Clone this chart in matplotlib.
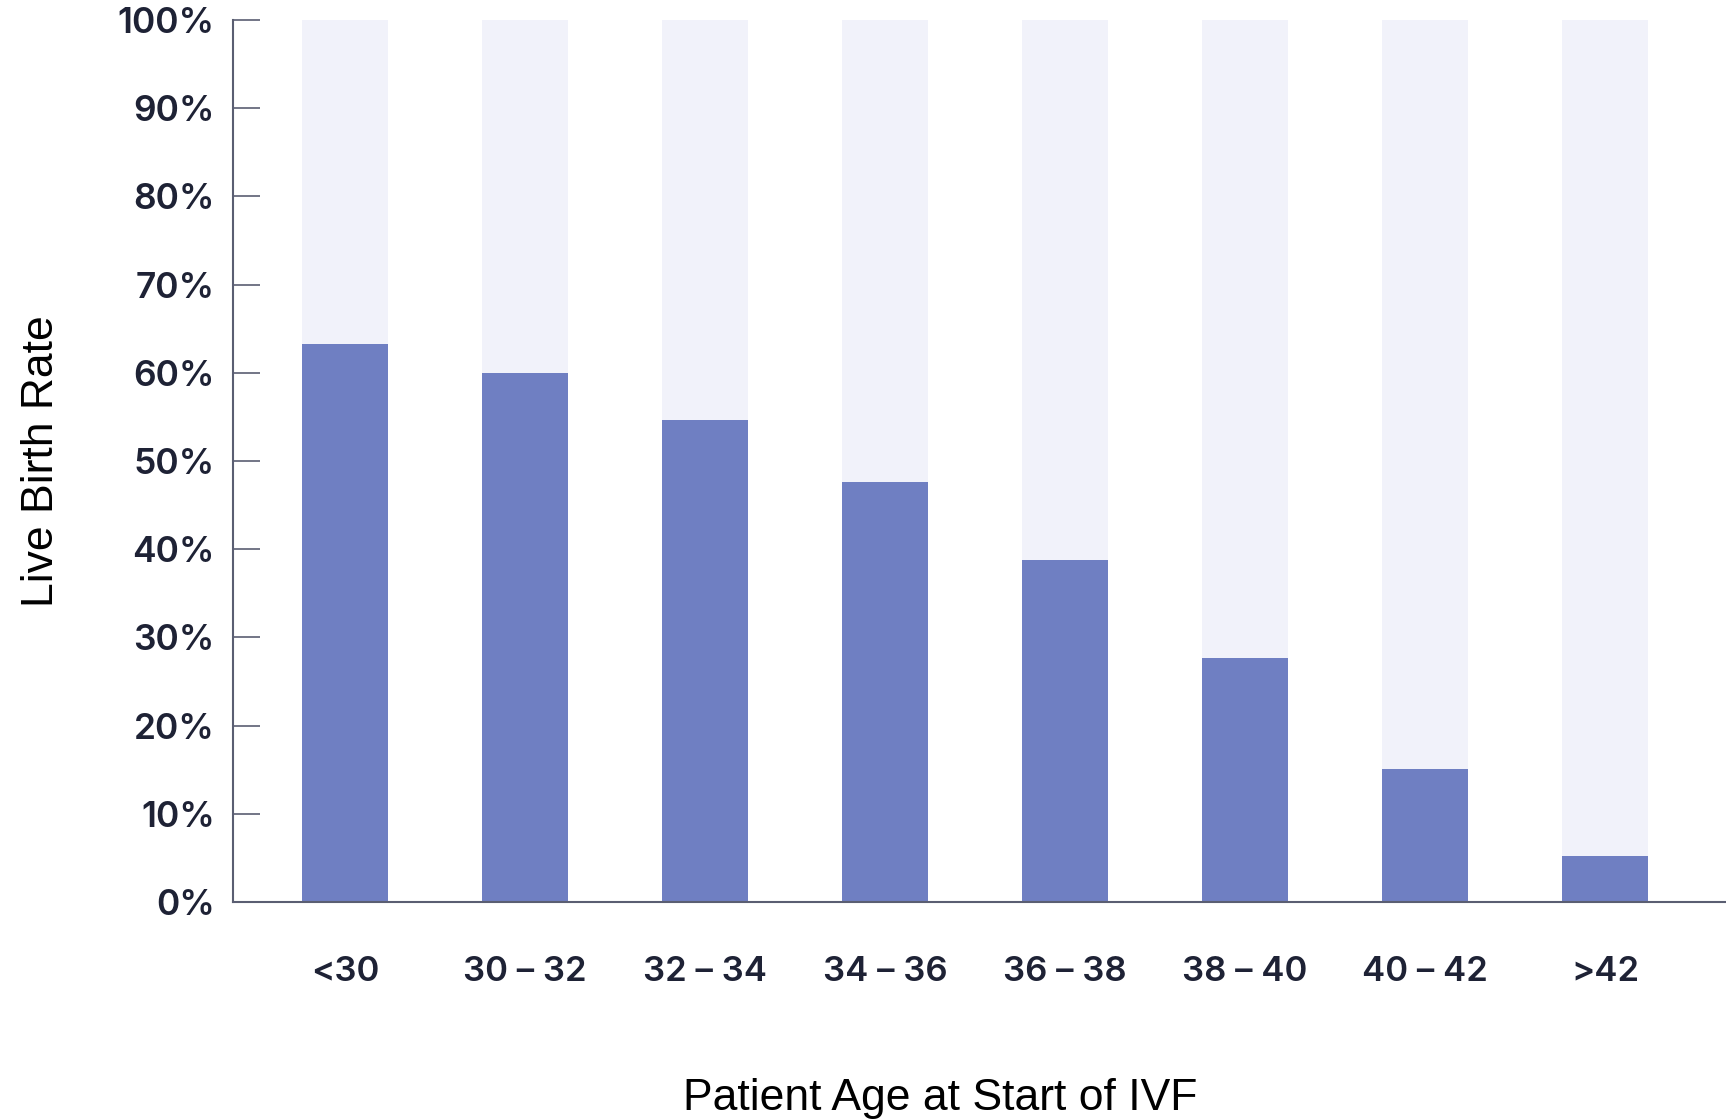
import numpy as np
import matplotlib.pyplot as plt

# data
ages = ['<30', '30 – 32', '32 – 34', '34 – 36', '36 – 38', '38 – 40', '40 – 42', '>42']
live_birth = [63.3, 60.0, 54.6, 47.6, 38.8, 27.7, 15.1, 5.2]
yticks = [0, 10, 20, 30, 40, 50, 60, 70, 80, 90, 100]

bar_col = '#6F7FC2'
back_col = '#F1F2FA'
text_col = '#1E2235'
axis_col = '#5A5E72'

fig = plt.figure(figsize=(17.26, 11.19), dpi=100)
ax = fig.add_axes([0.135, 0.194, 0.865, 0.788])

x = np.arange(len(ages))
w = 0.478
ax.bar(x, [100] * len(ages), width=w, color=back_col, zorder=1)
ax.bar(x, live_birth, width=w, color=bar_col, zorder=2)

ax.set_xlim(-0.622, 7.672)
ax.set_ylim(0, 100)

for s in ['top', 'right']:
    ax.spines[s].set_visible(False)
ax.spines['left'].set_color(axis_col)
ax.spines['bottom'].set_color(axis_col)
ax.spines['left'].set_linewidth(1.5)
ax.spines['bottom'].set_linewidth(1.5)
ax.spines['bottom'].set_zorder(3)

ax.set_yticks(yticks)
ax.set_yticklabels([f'{v}%' for v in yticks])
ax.set_xticks(x)
ax.set_xticklabels(ages)

ax.tick_params(axis='y', direction='in', length=19.5, width=1.2, color=axis_col,
               pad=13, labelsize=25.5, labelcolor=text_col)
ax.tick_params(axis='x', length=0, pad=39, labelsize=25, labelcolor=text_col)
for lab in ax.get_xticklabels() + ax.get_yticklabels():
    lab.set_family(['Inter', 'DejaVu Sans'])
    lab.set_fontweight('semibold')

ax.set_ylabel('Live Birth Rate', fontsize=32, color='black',
              family=['Liberation Sans', 'DejaVu Sans'], va='center')
ax.yaxis.set_label_coords(-0.128, 0.5)
ax.set_xlabel('Patient Age at Start of IVF', fontsize=32, color='black',
              family=['Liberation Sans', 'DejaVu Sans'], va='center')
ax.xaxis.set_label_coords(0.4735, -0.223)

plt.savefig('out.png', dpi=100)
